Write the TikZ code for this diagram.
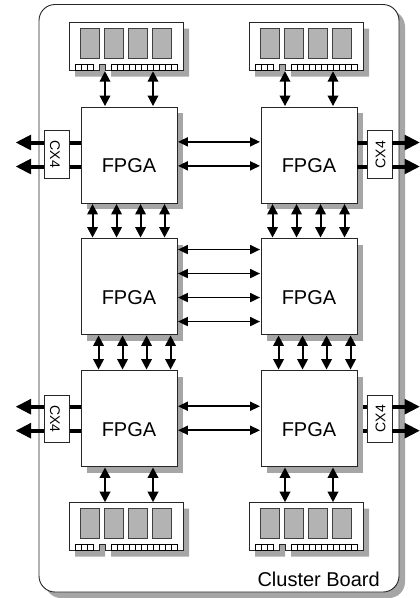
\documentclass[tikz,border=0pt]{standalone}
\usepackage{fontspec}
\setmainfont{Liberation Sans}
\usetikzlibrary{arrows.meta}
\definecolor{shadowgray}{HTML}{A6A6A6}
\definecolor{chipgray}{HTML}{B3B3B3}
\tikzset{
  outline/.style={draw=black!85,line width=0.9pt},
  fpgabox/.style={outline,fill=white,minimum width=96pt,minimum height=96pt,inner sep=0pt},
  fpgatext/.style={font=\fontsize{20}{24}\selectfont,inner sep=0pt},
  cxbox/.style={outline,fill=white,minimum width=24.5pt,minimum height=47.5pt,inner sep=0pt},
  cxlabel/.style={font=\fontsize{14}{16}\selectfont,inner sep=0pt},
  vlink/.style={line width=2pt,{Triangle[length=10.5pt,width=10.5pt]}-{Triangle[length=10.5pt,width=10.5pt]},shorten >=0.5pt,shorten <=0.5pt},
  hlink/.style={line width=1.8pt,{Triangle[length=10pt,width=9pt]}-{Triangle[length=10pt,width=9pt]},shorten >=0.5pt,shorten <=0.5pt},
  stub/.style={line width=4pt},
  outarrow/.style={line width=4pt,-{Triangle[length=15.5pt,width=14.5pt]}},
}
% DIMM at top-left corner (#1,#2); #3 = prefix of the names of its coordinates
\newcommand{\dimmshape}[3]{%
  \begin{scope}[shift={(#1,#2)}]
    \fill[shadowgray] (6,6) -- (120,6) -- (120,54) -- (42,54) -- (42,48) -- (36,48) -- (36,54) -- (6,54) -- cycle;
    \path[outline,fill=white] (0,0) -- (114,0) -- (114,48) -- (36,48) -- (36,42) -- (30,42) -- (30,48) -- (0,48) -- cycle;
    \foreach \cx in {11.5,35.5,59.5,83.5}
      \path[draw=black!75,line width=1pt,fill=chipgray] (\cx,5.7) rectangle ++(18.7,30.4);
    \foreach \px in {6,12,18,42,48,54,60,66,72,78,84,90,96,102}
      \draw[black,line width=0.8pt] (\px,42) rectangle ++(6,6);
    \coordinate (#3ba) at (36,48);
    \coordinate (#3bb) at (84,48);
    \coordinate (#3ta) at (36,0);
    \coordinate (#3tb) at (84,0);
  \end{scope}}
\begin{document}
\begin{tikzpicture}[x=1pt,y=-1pt]
\useasboundingbox (0,0) rectangle (420,598);
\fill[white] (0,0) rectangle (420,598);
% board
\fill[shadowgray,rounded corners=16pt] (45,10.5) rectangle (405,598);
\path[outline,fill=white,rounded corners=16pt] (39,4.5) rectangle (399,592);
% shadows
\foreach \x/\y in {81/107,261/107,81/238.5,261/238.5,81/370.5,261/370.5}
  \fill[shadowgray] (\x+6,\y+6) rectangle ++(96,96);
% FPGA nodes
\node[fpgabox] (f1) at (129,155) {};
\node[fpgabox] (f2) at (309,155) {};
\node[fpgabox] (f3) at (129,286.5) {};
\node[fpgabox] (f4) at (309,286.5) {};
\node[fpgabox] (f5) at (129,418.5) {};
\node[fpgabox] (f6) at (309,418.5) {};
\node[fpgatext] (t1) at (129,166) {FPGA};
\node[fpgatext] (t2) at (309,166) {FPGA};
\node[fpgatext] (t3) at (129,298) {FPGA};
\node[fpgatext] (t4) at (309,298) {FPGA};
\node[fpgatext] (t5) at (129,430) {FPGA};
\node[fpgatext] (t6) at (309,430) {FPGA};
% DIMMs
\dimmshape{69}{22.7}{da}
\dimmshape{249}{22.7}{db}
\dimmshape{69}{502.7}{dc}
\dimmshape{249}{502.7}{dd}
% memory links
\draw[vlink] (daba) -- (daba |- f1.north);
\draw[vlink] (dabb) -- (dabb |- f1.north);
\draw[vlink] (dbba) -- (dbba |- f2.north);
\draw[vlink] (dbbb) -- (dbbb |- f2.north);
\draw[vlink] (dcta |- f5.south) -- (dcta);
\draw[vlink] (dctb |- f5.south) -- (dctb);
\draw[vlink] (ddta |- f6.south) -- (ddta);
\draw[vlink] (ddtb |- f6.south) -- (ddtb);
% vertical links
\foreach \a/\b in {f1/f3,f2/f4}
  \foreach \s in {12,36,60,84}
    \draw[vlink] ([xshift=\s pt]\a.south west) -- ([xshift=\s pt]\b.north west);
\foreach \a/\b in {f3/f5,f4/f6}
  \foreach \s in {18,42,66,90}
    \draw[vlink] ([xshift=\s pt]\a.south west) -- ([xshift=\s pt]\b.north west);
% horizontal links
\foreach \s in {35.3,59.3}
  \draw[hlink] ([yshift=-\s pt]f1.north east) -- ([yshift=-\s pt]f2.north west);
\foreach \s in {11.5,35.5,59.5,83.5}
  \draw[hlink] ([yshift=-\s pt]f3.north east) -- ([yshift=-\s pt]f4.north west);
\foreach \s in {36.2,60.2}
  \draw[hlink] ([yshift=-\s pt]f5.north east) -- ([yshift=-\s pt]f6.north west);
% CX4
\node[cxbox] (c1) at (57,154.5) {};
\node[cxbox] (c2) at (379.7,154.5) {};
\node[cxbox] (c3) at (57,418.7) {};
\node[cxbox] (c4) at (379.7,418.7) {};
\coordinate (outl) at (15.5,0);
\coordinate (outr) at (420,0);
\coordinate (hid) at (363,0);
\foreach \s in {12,-12}{
  \draw[stub] ([yshift=\s pt]c1.east) -- ([yshift=\s pt]c1.east -| f1.west);
  \draw[stub] ([yshift=\s pt]c2.west) -- ([yshift=\s pt]c2.west -| f2.east);
  \draw[stub] ([yshift=\s pt]c3.east) -- ([yshift=\s pt]c3.east -| f5.west);
  \draw[stub] ([yshift=\s pt]c4.west) -- ([yshift=\s pt]c4.west -| hid);
  \draw[outarrow] ([yshift=\s pt]c1.west) -- ([yshift=\s pt]c1.west -| outl);
  \draw[outarrow] ([yshift=\s pt]c2.east) -- ([yshift=\s pt]c2.east -| outr);
  \draw[outarrow] ([yshift=\s pt]c3.west) -- ([yshift=\s pt]c3.west -| outl);
  \draw[outarrow] ([yshift=\s pt]c4.east) -- ([yshift=\s pt]c4.east -| outr);
}
\node[cxlabel,rotate=-90] (l1) at (55,154.5) {CX4};
\node[cxlabel,rotate=90] (l2) at (380.5,154.5) {CX4};
\node[cxlabel,rotate=-90] (l3) at (55,418.7) {CX4};
\node[cxlabel,rotate=90] (l4) at (380.5,418.7) {CX4};
% label
\node[anchor=base east,inner sep=0pt,font=\fontsize{20}{24}\selectfont] (cb) at (380,586) {Cluster Board};
\end{tikzpicture}
\end{document}
